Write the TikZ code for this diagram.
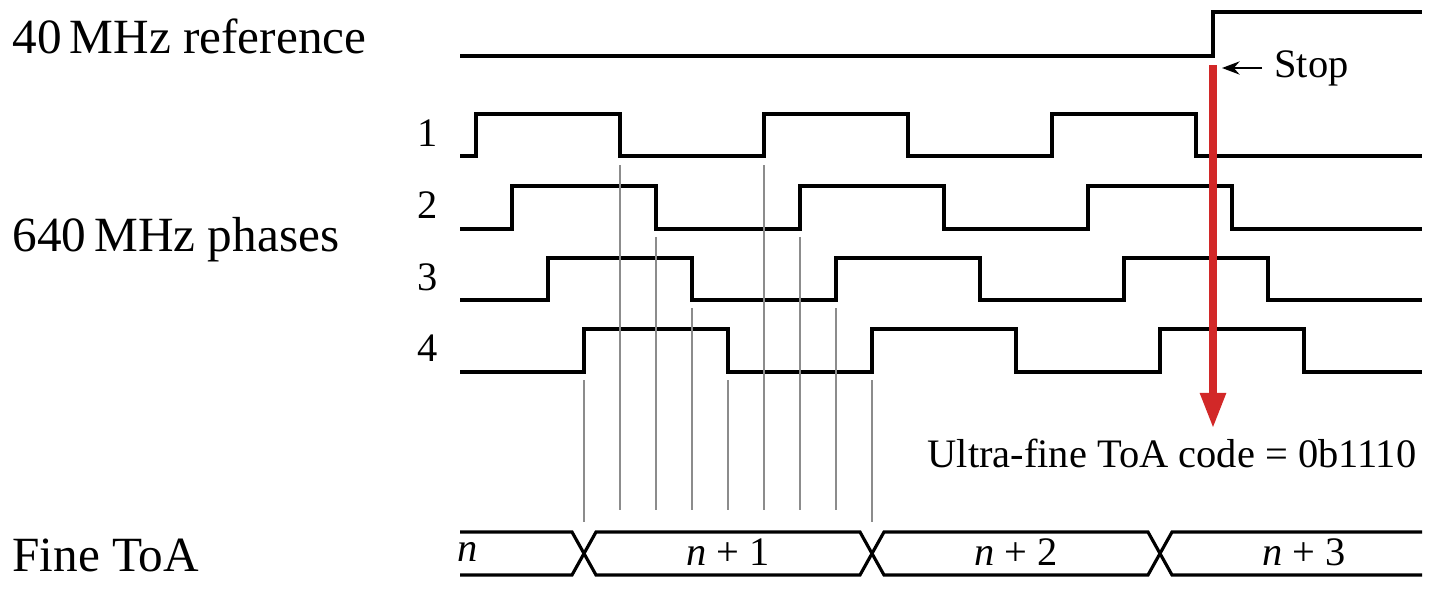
\documentclass[tikz,border=0pt]{standalone}
\usepackage{fontspec}
\setmainfont{Liberation Serif}
\usetikzlibrary{arrows.meta,positioning}
\definecolor{stopred}{RGB}{210,40,40}
\begin{document}
\begin{tikzpicture}
    [x=0.01cm,y=-0.01cm,
     sig/.style={line width=0.9pt,line join=miter},
     tick/.style={gray!90,line width=0.7pt},
     biglabel/.style={font=\fontsize{14}{16}\selectfont,anchor=west},
     phase/.style={font=\fontsize{11.5}{14}\selectfont}]
    \useasboundingbox (0,0) rectangle (1442,612);
    % labels
    \node [biglabel] (ref) at (0,36) {40\,MHz reference};
    \node [biglabel] (phs) at (0,240) {640\,MHz phases};
    \node [biglabel] (toa) at (0,555) {Fine ToA};
    % 40 MHz clock
    \draw [sig] (460,56) -- (1213,56) -- (1213,12) -- (1422,12);
    % four phases
    \foreach \i/\hi/\lo in {1/114/156,2/186/229,3/258/300,4/329/372} {
      \pgfmathsetmacro{\r}{476+36*(\i-1)}
      \node [phase] (ph\i) at (428,{(\hi+\lo)/2-2}) {\i};
      \draw [sig] (460,\lo) -- (\r,\lo)
        -- (\r,\hi) -- (\r+144,\hi) -- (\r+144,\lo) -- (\r+288,\lo)
        -- (\r+288,\hi) -- (\r+432,\hi) -- (\r+432,\lo) -- (\r+576,\lo)
        -- (\r+576,\hi) -- (\r+720,\hi) -- (\r+720,\lo) -- (1422,\lo);
    }
    % sampling ticks
    \foreach \x/\y/\e in {584/380/522,620/165/510,656/237/510,692/308/510,728/380/510,
                          764/165/510,800/237/510,836/308/510,872/380/522}
      \draw [tick] (\x,\y) -- (\x,\e);
    % stop marker
    \coordinate (stoptop) at (1213,65);
    \coordinate (stopend) at (1213,428);
    \draw [stopred,line width=2pt,-{Triangle[length=10pt,width=7pt]}] (stoptop) -- (stopend);
    \node [phase,anchor=west] (stop) at (1262,68) {Stop};
    \draw [-{Stealth[length=5pt]},semithick] (stop.west) -- ++(-40,0);
    \node [phase] (code) at (1172,453) {Ultra-fine ToA code = 0b1110};
    % fine ToA bus
    \draw [sig] (460,532) -- (572,532) -- (596,575) -- (860,575) -- (884,532)
      -- (1148,532) -- (1172,575) -- (1422,575);
    \draw [sig] (460,575) -- (572,575) -- (596,532) -- (860,532) -- (884,575)
      -- (1148,575) -- (1172,532) -- (1422,532);
    \node [phase] (b0) at (468,552) {\textit{n}};
    \node [phase] (b1) at (728,552) {\textit{n} + 1};
    \node [phase] (b2) at (1016,552) {\textit{n} + 2};
    \node [phase] (b3) at (1304,552) {\textit{n} + 3};
\end{tikzpicture}
\end{document}
